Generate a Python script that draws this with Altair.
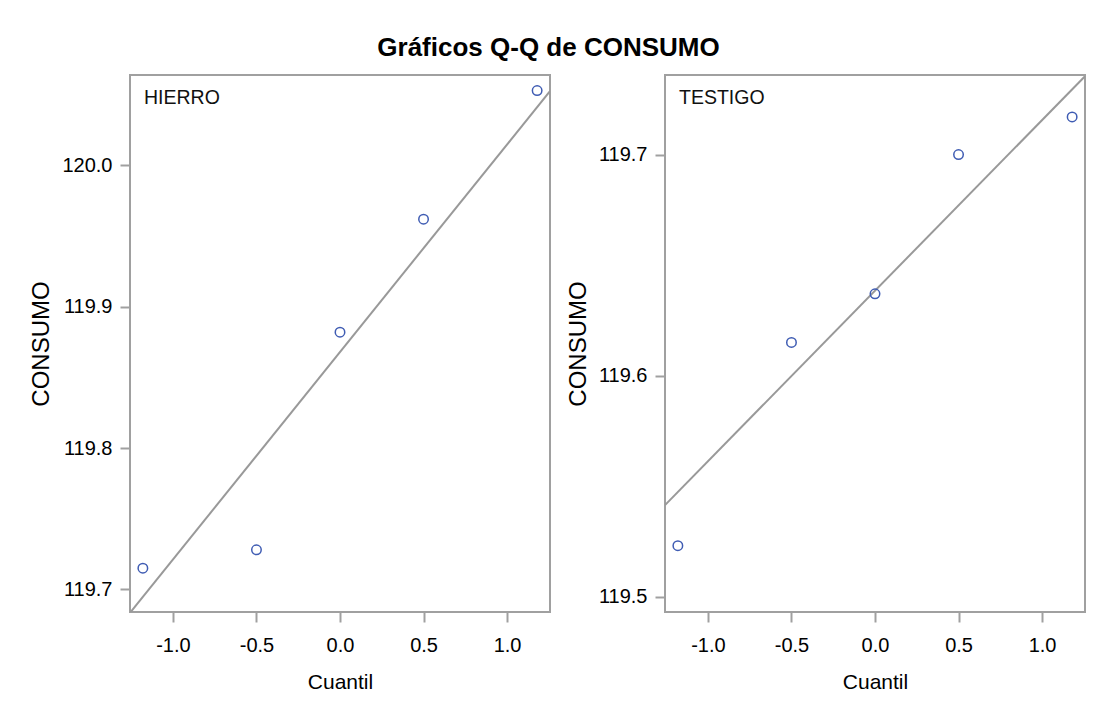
import altair as alt
import pandas as pd
import numpy as np

# ---- data ----
grupos = ["HIERRO", "TESTIGO"]
cuantiles = [-1.18, -0.50, 0.0, 0.50, 1.18]
consumo = {
    "HIERRO": [119.715, 119.728, 119.882, 119.962, 120.053],
    "TESTIGO": [119.523, 119.615, 119.637, 119.700, 119.717],
}
x_dominio = [-1.257, 1.257]
x_ticks = [-1.0, -0.5, 0.0, 0.5, 1.0]
y_dominios = {"HIERRO": [119.684, 120.064], "TESTIGO": [119.493, 119.736]}
y_ticks = {"HIERRO": [119.7, 119.8, 119.9, 120.0], "TESTIGO": [119.5, 119.6, 119.7]}

TITULO = "Gráficos Q-Q de CONSUMO"
X_TITULO = "Cuantil"
Y_TITULO = "CONSUMO"

GRIS = "#a0a0a0"
AZUL = "#3f5cb3"
FUENTE = "Liberation Sans"

label_expr = "datum.value < 0 ? '-' + format(-datum.value, '.1f') : format(datum.value, '.1f')"


def panel(g):
    pts = pd.DataFrame({"Cuantil": cuantiles, "CONSUMO": consumo[g], "grupo": g})
    vals = np.array(consumo[g])
    media, de = vals.mean(), vals.std(ddof=1)
    linea = pd.DataFrame({
        "Cuantil": x_dominio,
        "CONSUMO": [media + de * x for x in x_dominio],
    })
    etiqueta = pd.DataFrame({"grupo": [g]})

    x = alt.X("Cuantil:Q",
              scale=alt.Scale(domain=x_dominio, nice=False, zero=False),
              axis=alt.Axis(title=X_TITULO, values=x_ticks, labelExpr=label_expr))
    y = alt.Y("CONSUMO:Q",
              scale=alt.Scale(domain=y_dominios[g], nice=False, zero=False),
              axis=alt.Axis(title=Y_TITULO, values=y_ticks[g], labelExpr=label_expr))

    l = alt.Chart(linea).mark_line(color="#999999", strokeWidth=2, clip=True).encode(x=x, y=y)
    p = alt.Chart(pts).mark_point(shape="circle", filled=False, size=90,
                                  strokeWidth=1.5, color=AZUL, opacity=1).encode(x=x, y=y)
    t = alt.Chart(etiqueta).mark_text(align="left", baseline="alphabetic",
                                      font=FUENTE, fontSize=19.5, color="#111111").encode(
        x=alt.value(14), y=alt.value(29), text="grupo:N")
    return alt.layer(l, p, t).properties(width=420, height=537)


chart = alt.hconcat(*[panel(g) for g in grupos], spacing=14).properties(
    title=alt.TitleParams(TITULO, font=FUENTE, fontSize=26, fontWeight="bold",
                          anchor="middle", offset=13, dx=-9, color="#000000"),
    padding={"left": 20, "top": 27, "right": 5, "bottom": 5},
    background="white",
).configure_view(
    stroke=GRIS, strokeWidth=2
).configure_axis(
    grid=False, domain=False,
    tickColor=GRIS, tickWidth=2, tickSize=10,
    labelFont=FUENTE, labelFontSize=20, labelColor="#000000",
    titleFont=FUENTE, titleFontWeight="normal", titleColor="#000000",
).configure_axisX(
    titleFontSize=21, titlePadding=16, labelPadding=13
).configure_axisY(
    titleFontSize=24, titlePadding=8, labelPadding=8
)

chart.save("out.html", embed_options={"renderer": "svg", "actions": False})
